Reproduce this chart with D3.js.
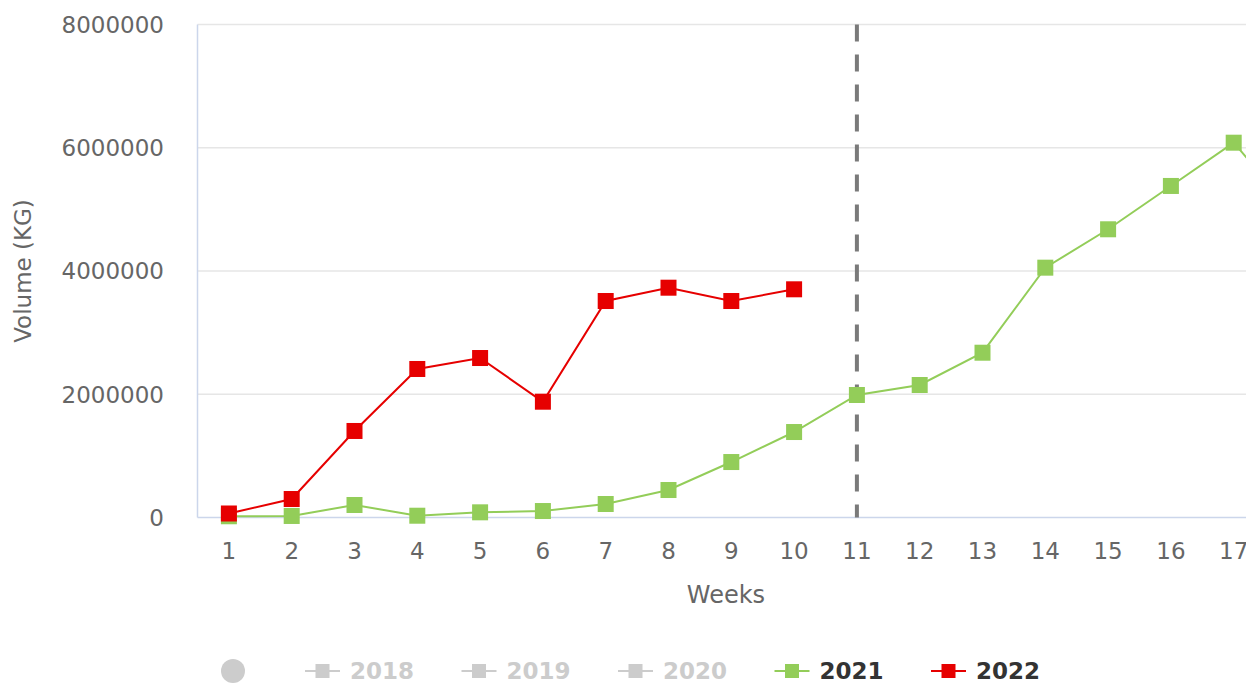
<!DOCTYPE html>
<html>
<head>
<meta charset="utf-8">
<script src="https://cdn.jsdelivr.net/npm/d3@7"></script>
<style>
  body { margin: 0; background: #fff; }
  svg { display: block; font-family: "DejaVu Sans", Verdana, sans-serif; }
</style>
</head>
<body>
<svg id="chart" width="1246" height="684"></svg>
<script>
// Adatok
const weeks = ['1', '2', '3', '4', '5', '6', '7', '8', '9', '10', '11', '12', '13', '14', '15', '16', '17', '18'];
const vol2021 = [20000, 25000, 203000, 29000, 84000, 105000, 219000, 446000, 900000, 1387000,
  1988000, 2150000, 2674000, 4054000, 4677000, 5380000, 6082000, 4900000];
const vol2022 = [65000, 300000, 1404000, 2410000, 2588000, 1879000, 3513000, 3729000, 3513000, 3703000];
const yTicks = [0, 2000000, 4000000, 6000000, 8000000];
const legendItems = [
  { name: '2018', color: '#cccccc', visible: false },
  { name: '2019', color: '#cccccc', visible: false },
  { name: '2020', color: '#cccccc', visible: false },
  { name: '2021', color: '#93cd59', visible: true },
  { name: '2022', color: '#e60000', visible: true }
];
const markerWeek = '11';

// Méretek
const plotLeft = 197.5, plotTop = 24.5, plotBottom = 517.5, step = 62.8;
const svg = d3.select('#chart');

const x = d3.scaleBand()
  .domain(weeks)
  .range([plotLeft, plotLeft + weeks.length * step])
  .padding(0);
const cx = d => x(d) + x.bandwidth() / 2;
const y = d3.scaleLinear().domain([0, 8000000]).range([plotBottom, plotTop]);

// Rácsvonalak
svg.append('g')
  .selectAll('line')
  .data(yTicks.slice(1))
  .join('line')
  .attr('x1', plotLeft).attr('x2', 1246)
  .attr('y1', d => y(d)).attr('y2', d => y(d))
  .attr('stroke', '#e6e6e6')
  .attr('stroke-width', 1.5);

// Tengelyvonalak
svg.append('line')
  .attr('x1', plotLeft).attr('x2', plotLeft)
  .attr('y1', plotTop).attr('y2', plotBottom)
  .attr('stroke', '#ccd6eb').attr('stroke-width', 1.5);
svg.append('line')
  .attr('x1', plotLeft).attr('x2', 1246)
  .attr('y1', plotBottom).attr('y2', plotBottom)
  .attr('stroke', '#ccd6eb').attr('stroke-width', 1.5);

// Y tengely feliratai
svg.append('g')
  .selectAll('text')
  .data(yTicks)
  .join('text')
  .attr('x', 164)
  .attr('y', d => y(d))
  .attr('dy', '0.36em')
  .attr('text-anchor', 'end')
  .attr('font-size', '23px')
  .attr('fill', '#666')
  .text(d => d3.format('d')(d));

// X tengely feliratai (a látható heteké)
svg.append('g')
  .selectAll('text')
  .data(weeks.filter(d => cx(d) < 1260))
  .join('text')
  .attr('x', d => cx(d))
  .attr('y', 559)
  .attr('text-anchor', 'middle')
  .attr('font-size', '23px')
  .attr('fill', '#666')
  .text(d => d);

// Tengelycímek
svg.append('text')
  .attr('x', 726)
  .attr('y', 603)
  .attr('text-anchor', 'middle')
  .attr('font-size', '24px')
  .attr('fill', '#666')
  .text('Weeks');
svg.append('text')
  .attr('transform', `translate(31,${(plotTop + plotBottom) / 2}) rotate(-90)`)
  .attr('text-anchor', 'middle')
  .attr('font-size', '23px')
  .attr('fill', '#666')
  .text('Volume (KG)');

// Szaggatott jelölővonal
svg.append('line')
  .attr('x1', cx(markerWeek)).attr('x2', cx(markerWeek))
  .attr('y1', plotTop).attr('y2', plotBottom)
  .attr('stroke', '#7a7a7a')
  .attr('stroke-width', 4)
  .attr('stroke-dasharray', '17,13');

// Sorozatok
const series = [
  { values: vol2021, color: '#93cd59' },
  { values: vol2022, color: '#e60000' }
];
const line = d3.line()
  .x((d, i) => cx(weeks[i]))
  .y(d => y(d));
const ms = 16;
series.forEach(s => {
  svg.append('path')
    .datum(s.values)
    .attr('d', line)
    .attr('fill', 'none')
    .attr('stroke', s.color)
    .attr('stroke-width', 2);
  svg.append('g')
    .selectAll('rect')
    .data(s.values)
    .join('rect')
    .attr('x', (d, i) => cx(weeks[i]) - ms / 2)
    .attr('y', d => y(d) - ms / 2)
    .attr('width', ms)
    .attr('height', ms)
    .attr('fill', s.color);
});

// Jelmagyarázat
const ly = 671;
svg.append('circle')
  .attr('cx', 233).attr('cy', ly).attr('r', 12)
  .attr('fill', '#cccccc');
legendItems.forEach((item, i) => {
  const x0 = 305 + i * 156.5;
  const g = svg.append('g');
  g.append('line')
    .attr('x1', x0).attr('x2', x0 + 35)
    .attr('y1', ly).attr('y2', ly)
    .attr('stroke', item.color).attr('stroke-width', 2);
  g.append('rect')
    .attr('x', x0 + 17.5 - 7).attr('y', ly - 7)
    .attr('width', 14).attr('height', 14)
    .attr('fill', item.color);
  g.append('text')
    .attr('x', x0 + 45)
    .attr('y', ly + 8)
    .attr('font-size', '23px')
    .attr('font-weight', 'bold')
    .attr('fill', item.visible ? '#333333' : '#cccccc')
    .text(item.name);
});
</script>
</body>
</html>
